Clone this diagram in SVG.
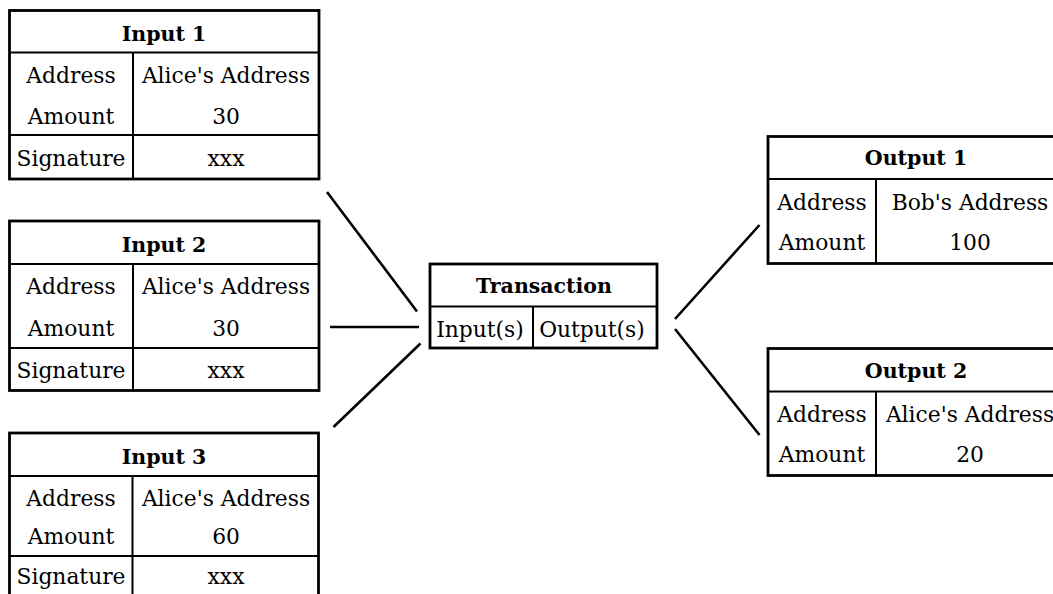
<svg xmlns="http://www.w3.org/2000/svg" width="1053" height="594" viewBox="0 0 1053 594">
  <style>
    .box { fill: #ffffff; stroke: #000000; stroke-width: 2.8; }
    .rule { stroke: #000000; stroke-width: 2; fill: none; }
    .link { stroke: #000000; stroke-width: 2.6; fill: none; }
    text { font-family: "DejaVu Serif", "Liberation Serif", serif; fill: #000000; text-anchor: middle; }
    .title { font-size: 20.5px; font-weight: bold; }
    .cell { font-size: 21.8px; }
  </style>
  <rect width="1053" height="594" fill="#ffffff"/>

  <!-- Input 1 -->
  <g id="input1">
    <rect class="box" x="9.5" y="10.5" width="309.5" height="168.5"/>
    <line class="rule" x1="9.5" y1="52.5" x2="319" y2="52.5"/>
    <line class="rule" x1="133" y1="52.5" x2="133" y2="179"/>
    <line class="rule" x1="9.5" y1="135" x2="319" y2="135"/>
    <text class="title" x="164" y="40.5">Input 1</text>
    <text class="cell" x="71" y="83">Address</text>
    <text class="cell" x="226" y="83">Alice's Address</text>
    <text class="cell" x="71" y="124">Amount</text>
    <text class="cell" x="226" y="124">30</text>
    <text class="cell" x="71" y="166">Signature</text>
    <text class="cell" x="226" y="166">xxx</text>
  </g>

  <!-- Input 2 -->
  <g id="input2">
    <rect class="box" x="9.5" y="221" width="309.5" height="169.5"/>
    <line class="rule" x1="9.5" y1="264" x2="319" y2="264"/>
    <line class="rule" x1="133" y1="264" x2="133" y2="390.5"/>
    <line class="rule" x1="9.5" y1="348" x2="319" y2="348"/>
    <text class="title" x="164" y="252">Input 2</text>
    <text class="cell" x="71" y="294">Address</text>
    <text class="cell" x="226" y="294">Alice's Address</text>
    <text class="cell" x="71" y="336">Amount</text>
    <text class="cell" x="226" y="336">30</text>
    <text class="cell" x="71" y="378">Signature</text>
    <text class="cell" x="226" y="378">xxx</text>
  </g>

  <!-- Input 3 (runs past the bottom edge) -->
  <g id="input3">
    <rect class="box" x="9.5" y="433" width="309" height="175"/>
    <line class="rule" x1="9.5" y1="476" x2="318.5" y2="476"/>
    <line class="rule" x1="132.5" y1="476" x2="132.5" y2="608"/>
    <line class="rule" x1="9.5" y1="556" x2="318.5" y2="556"/>
    <text class="title" x="164" y="463.5">Input 3</text>
    <text class="cell" x="71" y="505.5">Address</text>
    <text class="cell" x="226" y="505.5">Alice's Address</text>
    <text class="cell" x="71" y="544">Amount</text>
    <text class="cell" x="226" y="544">60</text>
    <text class="cell" x="71" y="584">Signature</text>
    <text class="cell" x="226" y="584">xxx</text>
  </g>

  <!-- Transaction -->
  <g id="transaction">
    <rect class="box" x="430" y="264" width="227" height="84"/>
    <line class="rule" x1="430" y1="306.5" x2="657" y2="306.5"/>
    <line class="rule" x1="533" y1="306.5" x2="533" y2="348"/>
    <text class="title" x="544" y="293">Transaction</text>
    <text class="cell" x="480" y="336.5">Input(s)</text>
    <text class="cell" x="592" y="336.5">Output(s)</text>
  </g>

  <!-- Output 1 (runs past the right edge) -->
  <g id="output1">
    <rect class="box" x="768" y="136.5" width="296" height="127"/>
    <line class="rule" x1="768" y1="179" x2="1064" y2="179"/>
    <line class="rule" x1="876" y1="179" x2="876" y2="263.5"/>
    <text class="title" x="916" y="165">Output 1</text>
    <text class="cell" x="822" y="209.5">Address</text>
    <text class="cell" x="970" y="209.5">Bob's Address</text>
    <text class="cell" x="822" y="250">Amount</text>
    <text class="cell" x="970" y="250">100</text>
  </g>

  <!-- Output 2 (runs past the right edge) -->
  <g id="output2">
    <rect class="box" x="768" y="348.5" width="296" height="127"/>
    <line class="rule" x1="768" y1="391.5" x2="1064" y2="391.5"/>
    <line class="rule" x1="876" y1="391.5" x2="876" y2="475.5"/>
    <text class="title" x="916" y="378">Output 2</text>
    <text class="cell" x="822" y="421.5">Address</text>
    <text class="cell" x="970" y="421.5">Alice's Address</text>
    <text class="cell" x="822" y="461.5">Amount</text>
    <text class="cell" x="970" y="461.5">20</text>
  </g>

  <!-- Connectors -->
  <g id="connectors">
    <line class="link" x1="327" y1="192" x2="417" y2="311.5"/>
    <line class="link" x1="330" y1="327" x2="419" y2="327"/>
    <line class="link" x1="333.5" y1="427" x2="420.5" y2="343.5"/>
    <line class="link" x1="675" y1="319" x2="759.5" y2="225"/>
    <line class="link" x1="675" y1="329" x2="759.5" y2="435"/>
  </g>
</svg>
